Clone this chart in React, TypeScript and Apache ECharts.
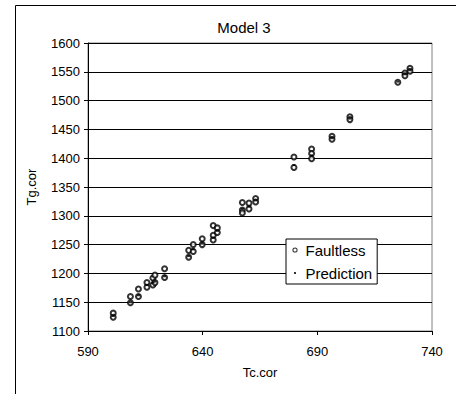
import React, { useEffect, useRef } from "react";
import * as echarts from "echarts";

const title = "Model 3";
const xName = "Tc.cor";
const yName = "Tg.cor";
const seriesNames = ["Faultless", "Prediction"];

const faultless: [number, number][] = [
  [601, 1131], [601, 1124],
  [608.5, 1160], [608.5, 1149],
  [612, 1173], [612, 1160],
  [615.7, 1184], [615.7, 1176],
  [618.3, 1192], [618.3, 1180],
  [619.2, 1197], [619.2, 1184],
  [623.4, 1208], [623.4, 1193],
  [633.9, 1240], [633.9, 1228],
  [635.9, 1250], [635.9, 1238],
  [639.8, 1260], [639.8, 1250],
  [644.6, 1283], [644.6, 1266], [644.6, 1258],
  [646.4, 1279], [646.4, 1271],
  [657.3, 1323], [657.3, 1310], [657.3, 1305],
  [660.2, 1322], [660.2, 1312],
  [663.1, 1330], [663.1, 1324],
  [679.8, 1402], [679.8, 1384],
  [687.5, 1416], [687.5, 1408], [687.5, 1399],
  [696.4, 1438], [696.4, 1433],
  [704.2, 1472], [704.2, 1467],
  [725.1, 1532],
  [728.2, 1548], [728.2, 1543],
  [730.4, 1556], [730.4, 1551],
];

const prediction: [number, number][] = [
  [601, 1126], [608.5, 1150], [612, 1162], [615.7, 1180], [618.3, 1184],
  [619.2, 1186], [623.4, 1195], [633.9, 1230], [635.9, 1242], [639.8, 1252],
  [644.6, 1262], [646.4, 1274], [657.3, 1312], [660.2, 1316], [663.1, 1327],
  [679.8, 1388], [687.5, 1405], [696.4, 1435], [704.2, 1469], [725.1, 1533],
  [728.2, 1546], [730.4, 1553],
];

const xMin = 590, xMax = 740, xStep = 50;
const yMin = 1100, yMax = 1600, yStep = 50;

const FONT = "'Liberation Sans', Arial, sans-serif";

const ringIcon =
  "path://M0 0M10 10M7.6 5A2.6 2.6 0 1 0 2.4 5A2.6 2.6 0 1 0 7.6 5ZM6.6 5A1.6 1.6 0 1 1 3.4 5A1.6 1.6 0 1 1 6.6 5Z";
const dotIcon = "path://M0 0M10 10M4 4h2v2h-2z";

export default function App() {
  const ref = useRef<HTMLDivElement>(null);
  useEffect(() => {
    if (!ref.current) return;
    const chart = echarts.init(ref.current, null, { renderer: "svg" });
    chart.setOption({
      animation: false,
      backgroundColor: "#fff",
      title: {
        text: title,
        left: 239,
        top: 15,
        textAlign: "center",
        textStyle: { fontFamily: FONT, fontSize: 15, fontWeight: "normal", color: "#000" },
      },
      grid: {
        left: 88, right: 24, top: 43, bottom: 63,
        show: true, borderColor: "#808080", borderWidth: 1, backgroundColor: "transparent",
      },
      xAxis: {
        type: "value", min: xMin, max: xMax, interval: xStep,
        name: xName, nameLocation: "middle", nameGap: 35,
        nameTextStyle: { fontFamily: FONT, fontSize: 13, color: "#000" },
        axisLine: { show: true, lineStyle: { color: "#000", width: 1 } },
        axisTick: { show: true, inside: false, length: 4, lineStyle: { color: "#000" } },
        axisLabel: { fontFamily: FONT, fontSize: 13, color: "#000", margin: 14 },
        splitLine: { show: false },
      },
      yAxis: {
        type: "value", min: yMin, max: yMax, interval: yStep,
        name: yName, nameLocation: "middle", nameGap: 50, nameRotate: 90,
        nameTextStyle: { fontFamily: FONT, fontSize: 13, color: "#000" },
        axisLine: { show: true, lineStyle: { color: "#000", width: 1 } },
        axisTick: { show: true, inside: false, length: 4, lineStyle: { color: "#000" } },
        axisLabel: {
          fontFamily: FONT, fontSize: 13, color: "#000", margin: 8,
          formatter: (v: number) => String(v),
        },
        splitLine: { show: true, lineStyle: { color: "#000", width: 1 } },
      },
      legend: {
        orient: "vertical",
        left: 286, top: 239,
        padding: [3, 5, 3, 4],
        itemGap: 7,
        itemWidth: 11, itemHeight: 10,
        borderColor: "#000", borderWidth: 1, backgroundColor: "#fff",
        textStyle: { fontFamily: FONT, fontSize: 15, color: "#000", lineHeight: 16 },
        data: [
          { name: seriesNames[0], icon: ringIcon, itemStyle: { color: "#000", borderWidth: 0 } },
          { name: seriesNames[1], icon: dotIcon, itemStyle: { color: "#000", borderWidth: 0 } },
        ],
      },
      graphic: [
        {
          type: "rect",
          shape: { x: 15.5, y: 5.5, width: 500, height: 500 },
          style: { fill: "none", stroke: "#000", lineWidth: 1 },
          silent: true,
          z: 100,
        },
      ],
      series: [
        {
          name: seriesNames[0],
          type: "scatter",
          symbol: "emptyCircle",
          symbolSize: 5,
          itemStyle: { color: "#000", borderColor: "#000", borderWidth: 1 },
          data: faultless,
          z: 2,
        },
        {
          name: seriesNames[1],
          type: "scatter",
          symbol: "rect",
          symbolSize: [3, 2],
          itemStyle: { color: "#000" },
          data: prediction,
          z: 3,
        },
      ],
    });
    return () => chart.dispose();
  }, []);
  return (
    <div
      ref={ref}
      style={{ position: "fixed", left: 0, top: 0, width: 456, height: 394 }}
    />
  );
}
